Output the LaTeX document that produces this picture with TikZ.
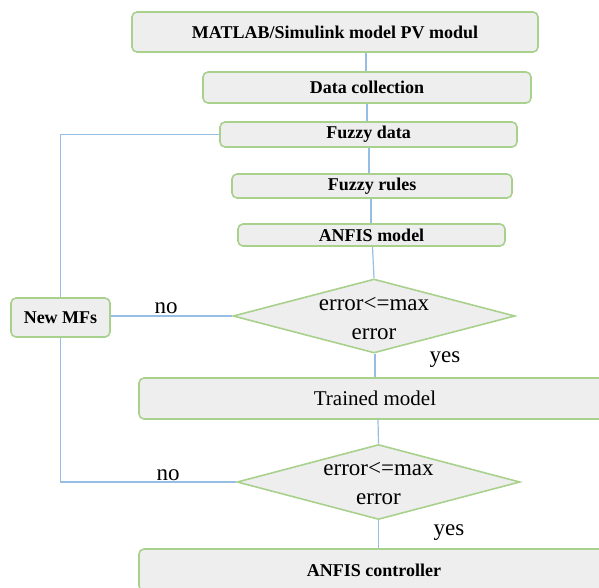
\documentclass[tikz,border=0pt]{standalone}
\usepackage{fontspec}
\setmainfont{Liberation Serif}
\usetikzlibrary{shapes.geometric}
\definecolor{boxfill}{RGB}{238,238,238}
\definecolor{boxline}{RGB}{169,209,142}
\definecolor{connc}{RGB}{150,190,228}
\tikzset{
  box/.style={draw=boxline, fill=boxfill, line width=1.6pt, rounded corners=5pt, inner sep=0pt,
    font=\fontsize{18}{20}\selectfont\bfseries},
  bigbox/.style={box, font=\fontsize{21}{24}\selectfont},
  decision/.style={diamond, draw=boxline, fill=boxfill, line width=1.6pt, inner sep=0pt},
  dectext/.style={font=\fontsize{23}{29}\selectfont, align=center, inner sep=0pt},
  conn/.style={draw=connc, line width=1.2pt},
  lab/.style={font=\fontsize{23}{24}\selectfont, inner sep=0pt, anchor=base}
}
\begin{document}
\begin{tikzpicture}[x=1pt,y=-1pt]
\useasboundingbox (0,0) rectangle (599,587);
\clip (0,0) rectangle (599,587);
\node[box, minimum width=406, minimum height=40] (m1) at (335,32) {MATLAB/Simulink model PV modul};
\node[box, minimum width=328, minimum height=31] (m2) at (367,87.5) {Data collection};
\node[box, minimum width=297, minimum height=25] (m3) at (368.5,134.5) {Fuzzy data};
\node[box, minimum width=280, minimum height=24] (m4) at (372,186) {Fuzzy rules};
\node[box, minimum width=267, minimum height=22] (m5) at (371.5,235) {ANFIS model};
\node[decision, minimum width=282, minimum height=74,
  label={[dectext, yshift=-3pt]center:{error<=max\\error}}] (d1) at (374,316) {};
\node[box, minimum width=99, minimum height=39] (mf) at (60.5,317.5) {New MFs};
\node[bigbox, minimum width=472, minimum height=41] (t) at (375,398.5) {Trained model};
\node[decision, minimum width=283, minimum height=75,
  label={[dectext, yshift=-2pt]center:{error<=max\\error}}] (d2) at (378.5,482) {};
\node[box, minimum width=470, minimum height=42] (c) at (374,570) {ANFIS controller};

\draw[conn] ([xshift=31pt]m1.south) -- ([xshift=-1pt]m2.north);
\draw[conn] (m2.south) -- ([xshift=-1.5pt]m3.north);
\draw[conn] ([xshift=0.5pt]m3.south) -- ([xshift=-3pt]m4.north);
\draw[conn] ([xshift=-1pt]m4.south) -- ([xshift=-0.5pt]m5.north);
\draw[conn] ([xshift=1pt]m5.south) -- (d1.north);
\draw[conn] ([xshift=1pt]d1.south) -- ([xshift=0pt]t.north);
\draw[conn] ([xshift=3pt]t.south) -- (d2.north);
\draw[conn] (d2.south) -- ([xshift=4.5pt]c.north);
\draw[conn] (d1.west) -- (d1.west -| mf.east);
\draw[conn] (d2.west) -- (d2.west -| mf.south) -- (mf.south);
\draw[conn] (mf.north) -- (mf.north |- m3.west) -- (m3.west);

\node[lab] (no1) at (166,313) {no};
\node[lab] (yes1) at (445,362) {yes};
\node[lab] (no2) at (168,480) {no};
\node[lab] (yes2) at (449,535) {yes};
\end{tikzpicture}
\end{document}
